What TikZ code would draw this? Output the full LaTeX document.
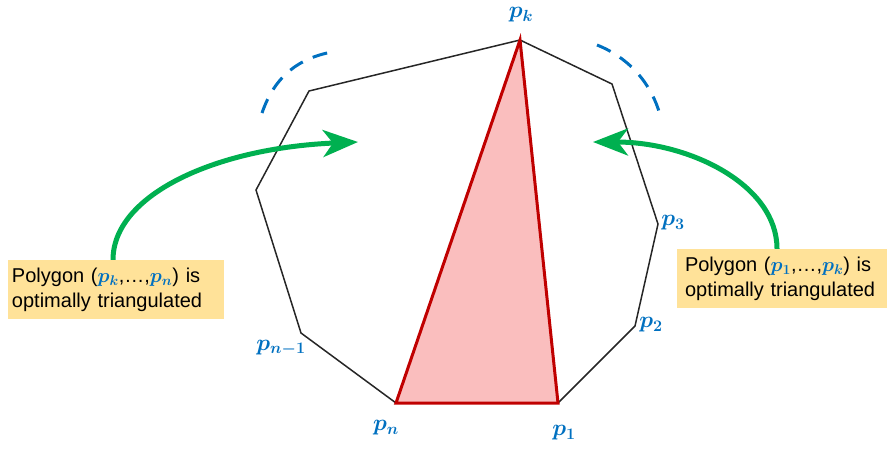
\RequirePackage{fix-cm}
\documentclass[tikz,border=0pt]{standalone}
\usepackage{amsmath}
\usepackage{bm}
\usepackage{fontspec}
\setmainfont{Liberation Sans}
\usetikzlibrary{arrows.meta}
\definecolor{lblblue}{RGB}{0,112,192}
\definecolor{arrgreen}{RGB}{0,176,80}
\definecolor{trired}{RGB}{192,0,0}
\definecolor{trifill}{RGB}{250,190,190}
\definecolor{boxfill}{RGB}{255,226,153}
\definecolor{polyline}{RGB}{38,38,38}
\newcommand{\bp}[1]{\textcolor{lblblue}{$\bm{#1}$}}
\begin{document}
\begin{tikzpicture}[x=1pt,y=-1pt,
 polyedge/.style={draw=polyline,line width=1.5pt,line join=miter},
 tri/.style={draw=trired,fill=trifill,line width=3pt,line join=miter},
 vlabel/.style={inner sep=0pt,text=lblblue,font=\fontsize{23}{27}\selectfont},
 noteBox/.style={fill=boxfill,inner ysep=0pt,minimum height=59pt,align=left,font=\fontsize{20}{25}\selectfont},
 greenarrow/.style={draw=arrgreen,line width=5pt,-{Stealth[length=35pt,width=27pt,inset=10pt]}},
 dasharc/.style={draw=lblblue,line width=3pt,dash pattern=on 15pt off 11pt}
]
\useasboundingbox (0,0) rectangle (890,448);

% polygon vertices
\coordinate (pk) at (520,40);
\coordinate (q1) at (612,84);
\coordinate (p3) at (658,224);
\coordinate (p2) at (635,326);
\coordinate (p1) at (558,403);
\coordinate (pn) at (396,403);
\coordinate (pm) at (301,333);
\coordinate (q3) at (256,190);
\coordinate (q2) at (309,91);

\draw[polyedge] (pk) -- (q1) -- (p3) -- (p2) -- (p1) -- (pn) -- (pm) -- (q3) -- (q2) -- cycle;
\draw[tri] (pk) -- (pn) -- (p1) -- cycle;

% vertex labels
\node[vlabel] (lpk) at (521,15) {$\bm{p_k}$};
\node[vlabel] (lp3) at (673,223) {$\bm{p_3}$};
\node[vlabel] (lp2) at (651,325) {$\bm{p_2}$};
\node[vlabel] (lp1) at (564,433) {$\bm{p_1}$};
\node[vlabel] (lpn) at (386,428) {$\bm{p_n}$};
\node[vlabel] (lpm) at (281,348) {$\bm{p_{n-1}}$};

% dashed arcs
\coordinate (aL1) at (262,113);
\coordinate (aL2) at (332,52);
\draw[dasharc] (aL1) .. controls (275,75) and (300,58) .. (aL2);
\coordinate (aR1) at (597,45);
\coordinate (aR2) at (660,115);
\draw[dasharc] (aR1) .. controls (630,58) and (652,85) .. (aR2);

% boxes
\node[noteBox,inner xsep=4pt,text width=208pt] (boxL) at (116,289.5)
  {Polygon (\bp{p_k},…,\bp{p_n}) is\\optimally triangulated};
\node[noteBox,inner xsep=8pt,text width=194pt] (boxR) at (782,278.5)
  {Polygon (\bp{p_1},…,\bp{p_k}) is\\optimally triangulated};

% green arrows
\coordinate (tipL) at (358,142);
\coordinate (tipR) at (593,142);
\draw[greenarrow] ([xshift=-3pt]boxL.north) .. controls (113,195) and (215,148) .. (tipL);
\draw[greenarrow] ([xshift=-5pt]boxR.north) .. controls (777,185) and (690,142) .. (tipR);
\end{tikzpicture}
\end{document}
